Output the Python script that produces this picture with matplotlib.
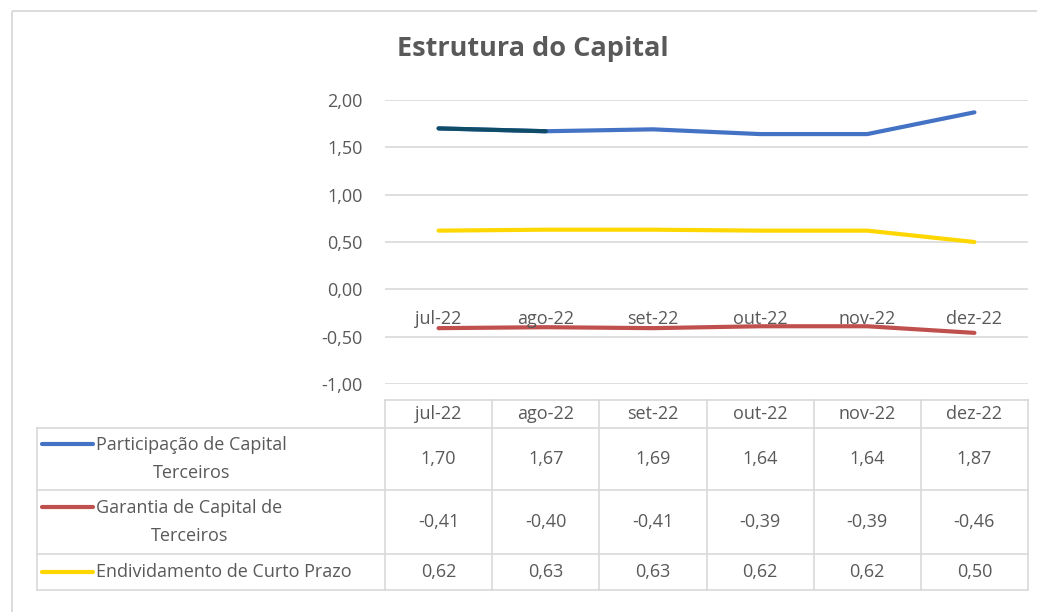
import matplotlib
matplotlib.use("Agg")
import matplotlib.pyplot as plt
from matplotlib.transforms import blended_transform_factory
from matplotlib.patches import Rectangle

plt.rcParams['font.family'] = ['Open Sans', 'DejaVu Sans']

months = ["jul-22", "ago-22", "set-22", "out-22", "nov-22", "dez-22"]
series_names = ["Participação de Capital\nTerceiros",
                "Garantia de Capital de\nTerceiros",
                "Endividamento de Curto Prazo"]
participacao = [1.70, 1.67, 1.69, 1.64, 1.64, 1.87]
garantia = [-0.41, -0.40, -0.41, -0.39, -0.39, -0.46]
endividamento = [0.62, 0.63, 0.63, 0.62, 0.62, 0.50]
yticks = [-1.0, -0.5, 0.0, 0.5, 1.0, 1.5, 2.0]

colors = ["#4472C4", "#C0504D", "#FFD700"]
dark_seg = "#0F4C68"
grid_c = "#D9D9D9"
txt_c = "#595959"
FS = 13

W, H = 1037, 612
fig = plt.figure(figsize=(W / 100, H / 100), dpi=100)

# overlay in pixel coordinates
ov = fig.add_axes([0, 0, 1, 1])
ov.set_xlim(0, W)
ov.set_ylim(H, 0)
ov.axis("off")

# chart border
ov.add_patch(Rectangle((12, 11), 1100, 700, fill=False, ec=grid_c, lw=1.3))

# main plot area
x0, x1 = 385, 1028
ytop, ybot = 100, 384
ax = fig.add_axes([x0 / W, 1 - ybot / H, (x1 - x0) / W, (ybot - ytop) / H])
ax.set_xlim(0, len(months))
ax.set_ylim(-1.0, 2.0)
ax.set_yticks(yticks)
ax.set_yticklabels([f"{v:.2f}".replace(".", ",") for v in yticks],
                   color=txt_c, fontsize=FS)
ax.tick_params(axis="y", length=0, pad=16)
ax.set_xticks([])
for s in ax.spines.values():
    s.set_visible(False)
ax.grid(axis="y", color=grid_c, lw=1.2)
ax.set_axisbelow(True)
ax.patch.set_alpha(0)

xs = [i + 0.5 for i in range(len(months))]
for vals, c in zip([participacao, garantia, endividamento], colors):
    ax.plot(xs, vals, color=c, lw=3, solid_capstyle="round", zorder=3)
# first segment of blue series highlighted
ax.plot(xs[:2], participacao[:2], color=dark_seg, lw=3,
        solid_capstyle="round", zorder=4)

# category labels next to the zero line
for x, m in zip(xs, months):
    ax.annotate(m, (x, 0), xytext=(0, -21), textcoords="offset points",
                ha="center", va="center", color=txt_c, fontsize=FS)

# title
ov.text(533, 49, "Estrutura do Capital", ha="center", va="center",
        fontsize=19.5, fontweight="bold", color=txt_c)

# data table
bt = blended_transform_factory(ax.transData, ov.transData)
row_y = [400, 428, 490, 554, 590]
lw_t = 1.2
# horizontal lines
ov.plot([x0, x1], [row_y[0], row_y[0]], color=grid_c, lw=lw_t)
for y in row_y[1:]:
    ov.plot([37, x1], [y, y], color=grid_c, lw=lw_t)
# vertical lines
ov.plot([37, 37], [row_y[1], row_y[-1]], color=grid_c, lw=lw_t)
for i in range(len(months) + 1):
    ax.plot([i, i], [row_y[0], row_y[-1]], color=grid_c, lw=lw_t,
            transform=bt, clip_on=False)

# header
for x, m in zip(xs, months):
    ov.text(x, (row_y[0] + row_y[1]) / 2, m, ha="center", va="center",
            color=txt_c, fontsize=FS, transform=bt)

# rows
all_vals = [participacao, garantia, endividamento]
for r, (name, vals, c) in enumerate(zip(series_names, all_vals, colors)):
    yc = (row_y[r + 1] + row_y[r + 2]) / 2
    multi = "\n" in name
    ly = yc - 15 if multi else yc
    ov.plot([42, 93], [ly, ly], color=c, lw=3, solid_capstyle="round")
    ov.text(96, yc, name, ha="left", va="center",
            multialignment="center", linespacing=1.75,
            color=txt_c, fontsize=FS)
    for x, v in zip(xs, vals):
        ov.text(x, yc, f"{v:.2f}".replace(".", ","), ha="center",
                va="center", color=txt_c, fontsize=FS, transform=bt)

fig.savefig("out.png", dpi=100, facecolor="white")
